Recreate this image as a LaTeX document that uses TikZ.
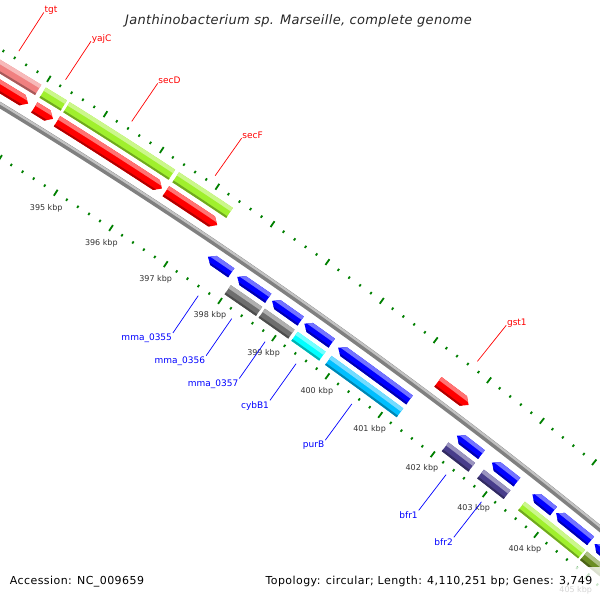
\documentclass[tikz,border=0pt]{standalone}
\usepackage{fontspec}
\setmainfont{DejaVu Sans}
\newfontfamily\titlefont[LetterSpace=2.5]{DejaVu Sans Oblique}
\newfontfamily\legfont[LetterSpace=4]{DejaVu Sans}
\pgfmathdeclarefunction{kb}{1}{\pgfmathparse{-57.69+0.701*(#1-395)}}

\definecolor{featred}{RGB}{255,0,0}
\definecolor{featblue}{RGB}{0,0,255}
\definecolor{pinkc}{RGB}{240,128,128}
\definecolor{greenc}{RGB}{160,240,45}
\definecolor{grayc}{RGB}{110,110,110}
\definecolor{cyanc}{RGB}{0,255,255}
\definecolor{skyc}{RGB}{0,191,255}
\definecolor{purplec}{RGB}{72,61,139}
\definecolor{olivec}{RGB}{107,142,35}
\definecolor{tickgreen}{RGB}{0,128,0}
\definecolor{bbgray}{RGB}{128,128,128}
\definecolor{bblight}{RGB}{195,195,195}
\definecolor{ticklabc}{RGB}{51,51,51}
\definecolor{titlec}{RGB}{40,40,40}

\tikzset{
  longtick/.style={line width=1.8pt, tickgreen},
  dottick/.style={line width=1.8pt, tickgreen},
  ticklab/.style={font=\fontsize{8}{9}\selectfont, text=ticklabc, inner sep=0pt},
  redlead/.style={line width=0.7pt, featred},
  bluelead/.style={line width=0.7pt, featblue},
  outlabel/.style={font=\fontsize{9}{10}\selectfont, text=featred, inner sep=0.6pt},
  inlabel/.style={font=\fontsize{9}{10}\selectfont, text=featblue, inner sep=0.8pt},
}

\newcommand{\sect}[5]{%
  \fill[#5] ({kb(#1)}:{#3}) arc[start angle={kb(#1)}, end angle={kb(#2)}, radius={#3}]
    -- ({kb(#2)}:{#4}) arc[start angle={kb(#2)}, end angle={kb(#1)}, radius={#4}] -- cycle;}
\newcommand{\bands}[5]{%
  \sect{#1-0.3}{#2+0.3}{#3-1}{#4+1}{#5}
  \sect{#1-0.3}{#2+0.3}{#4-4}{#4+1}{#5!55!white}
  \sect{#1-0.3}{#2+0.3}{#3-1}{#3+2}{#5!70!black}}
\newcommand{\cogbox}[5]{%
  \begin{scope}
  \clip ({kb(#1)}:{#3}) arc[start angle={kb(#1)}, end angle={kb(#2)}, radius={#3}]
    -- ({kb(#2)}:{#4}) arc[start angle={kb(#2)}, end angle={kb(#1)}, radius={#4}] -- cycle;
  \bands{#1}{#2}{#3}{#4}{#5}
  \end{scope}}
\newcommand{\fwdarrow}[5]{%
  \begin{scope}
  \clip ({kb(#1)}:{#3}) arc[start angle={kb(#1)}, end angle={kb(#2-0.1)}, radius={#3}]
    -- ({kb(#2)}:{(#3+#4)/2}) -- ({kb(#2-0.1)}:{#4})
    arc[start angle={kb(#2-0.1)}, end angle={kb(#1)}, radius={#4}] -- cycle;
  \bands{#1}{#2}{#3}{#4}{#5}
  \end{scope}}
\newcommand{\revarrow}[5]{%
  \begin{scope}
  \clip ({kb(#1)}:{(#3+#4)/2}) -- ({kb(#1+0.1)}:{#3})
    arc[start angle={kb(#1+0.1)}, end angle={kb(#2)}, radius={#3}]
    -- ({kb(#2)}:{#4}) arc[start angle={kb(#2)}, end angle={kb(#1+0.1)}, radius={#4}] -- cycle;
  \bands{#1}{#2}{#3}{#4}{#5}
  \end{scope}}
\newcommand{\outlab}[3]{%
  \draw[redlead] ({kb(#1)}:5461) coordinate (#3a) -- ({kb(#1+0.02)}:5507) coordinate (#3b);
  \node[outlabel, anchor=base west] (#3) at (#3b) {#2};}
\newcommand{\inlab}[3]{%
  \draw[bluelead] ({kb(#1)}:5352) coordinate (#3a) -- ({kb(#1)}:5307) coordinate (#3b);
  \node[inlabel, anchor=north east] (#3) at (#3b) {#2};}

\begin{document}
\begin{tikzpicture}[x=1pt,y=-1pt]
\useasboundingbox (0,0) rectangle (600,600);
\clip (0,0) rectangle (600,600);
\fill[white] (0,0) rectangle (600,600);
\begin{scope}[shift={(-2809,4722.6)}]
  % backbone
  \draw[line width=6pt, bbgray] ({kb(389)}:5405) arc[start angle={kb(389)}, end angle={kb(408)}, radius=5405];
  \draw[line width=2.2pt, bblight] ({kb(389)}:5406.6) arc[start angle={kb(389)}, end angle={kb(408)}, radius=5406.6];
  % outer tick ring
  \foreach \i in {0,...,90}{
    \pgfmathsetmacro\b{390+0.2*\i}
    \pgfmathtruncatemacro\m{mod(\i,5)}
    \ifnum\m=0
      \draw[longtick] ({kb(\b)}:5449.5) -- ({kb(\b)}:5456.5);
    \else
      \draw[dottick] ({kb(\b)}:5451.7) -- ({kb(\b)}:5454.3);
    \fi
  }
  % inner tick ring
  \foreach \i in {0,...,80}{
    \pgfmathsetmacro\b{391+0.2*\i}
    \pgfmathtruncatemacro\m{mod(\i,5)}
    \ifnum\m=0
      \draw[longtick] ({kb(\b)}:5356.5) -- ({kb(\b)}:5363.5);
    \else
      \draw[dottick] ({kb(\b)}:5358.7) -- ({kb(\b)}:5361.3);
    \fi
  }
  \foreach \k in {395,...,405}
    \node[ticklab] (t\k) at ({kb(\k)}:5342) {\k\ kbp};
  % outer COG track
  \cogbox{392.6}{393.95}{5432}{5444}{pinkc}
  \cogbox{394.03}{394.40}{5432}{5444}{greenc}
  \cogbox{394.45}{396.33}{5432}{5444}{greenc}
  \cogbox{396.40}{397.37}{5432}{5444}{greenc}
  % forward CDS
  \fwdarrow{392.6}{393.93}{5415}{5427}{featred}
  \fwdarrow{394.04}{394.37}{5415}{5427}{featred}
  \fwdarrow{394.44}{396.32}{5415}{5427}{featred}
  \fwdarrow{396.39}{397.32}{5415}{5427}{featred}
  \fwdarrow{401.40}{401.98}{5415}{5427}{featred}
  % reverse CDS
  \revarrow{397.47}{397.90}{5384}{5395}{featblue}
  \revarrow{398.01}{398.58}{5384}{5395}{featblue}
  \revarrow{398.65}{399.18}{5384}{5395}{featblue}
  \revarrow{399.25}{399.76}{5384}{5395}{featblue}
  \revarrow{399.88}{401.22}{5384}{5395}{featblue}
  \revarrow{402.12}{402.59}{5384}{5395}{featblue}
  \revarrow{402.79}{403.27}{5384}{5395}{featblue}
  \revarrow{403.57}{403.98}{5384}{5395}{featblue}
  \revarrow{404.03}{404.70}{5384}{5395}{featblue}
  \revarrow{404.78}{406.50}{5384}{5395}{featblue}
  % inner COG track
  \cogbox{398.00}{398.58}{5368}{5379}{grayc}
  \cogbox{398.63}{399.18}{5368}{5379}{grayc}
  \cogbox{399.24}{399.76}{5368}{5379}{cyanc}
  \cogbox{399.87}{401.22}{5368}{5379}{skyc}
  \cogbox{402.08}{402.59}{5368}{5379}{purplec}
  \cogbox{402.76}{403.27}{5368}{5379}{purplec}
  \cogbox{403.55}{404.72}{5368}{5379}{greenc}
  \cogbox{404.76}{406.50}{5368}{5379}{olivec}
  % labels
  \outlab{393.40}{tgt}{Ltgt}
  \outlab{394.22}{yajC}{LyajC}
  \outlab{395.39}{secD}{LsecD}
  \outlab{396.88}{secF}{LsecF}
  \outlab{401.69}{gst1}{Lgst}
  \inlab{397.68}{mma\_0355}{La}
  \inlab{398.30}{mma\_0356}{Lb}
  \inlab{398.92}{mma\_0357}{Lc}
  \inlab{399.50}{cybB1}{Ld}
  \inlab{400.55}{purB}{Le}
  \inlab{402.35}{bfr1}{Lf}
  \inlab{403.03}{bfr2}{Lg}
\end{scope}
\fill[white, opacity=0.8] (0,567) rectangle (600,600);
\node[font=\titlefont\fontsize{13}{15}\selectfont, text=titlec, anchor=base, inner sep=0pt] (title) at (298.5,24.5) {Janthinobacterium sp. Marseille, complete genome};
\node[font=\legfont\fontsize{11}{13}\selectfont, text=black, anchor=base west, inner sep=0pt] (acc) at (9.6,584.5) {Accession: NC\_009659};
\node[font=\legfont\fontsize{11}{13}\selectfont, text=black, anchor=base east, inner sep=0pt] (topo) at (592.5,584.5) {Topology: circular; Length: 4,110,251 bp; Genes: 3,749};
\end{tikzpicture}
\end{document}
